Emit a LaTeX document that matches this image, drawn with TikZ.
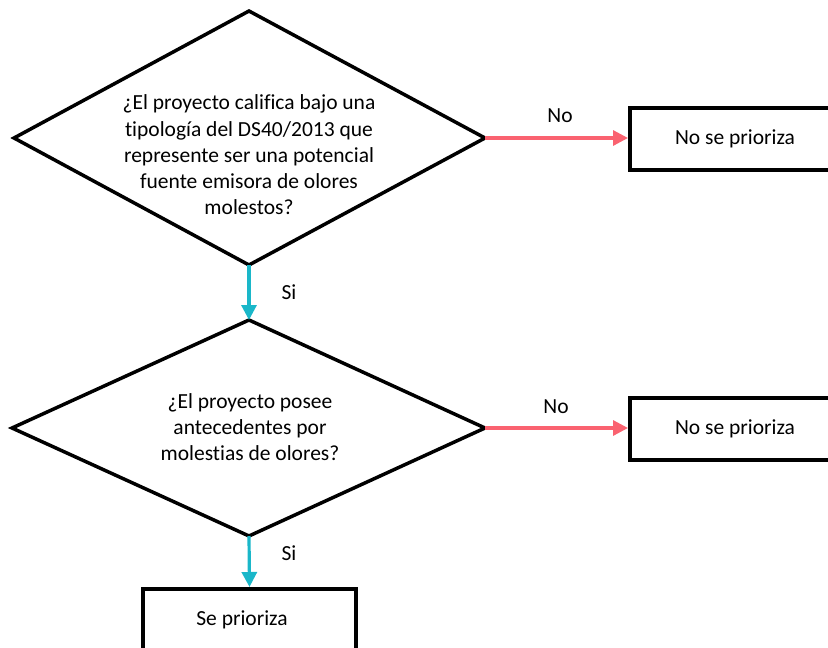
\documentclass[tikz,border=0pt]{standalone}
\usepackage{fontspec}
\setmainfont{Carlito}[Ligatures=NoCommon]
\usetikzlibrary{arrows.meta}
\definecolor{noRed}{RGB}{250,98,112}
\definecolor{siTeal}{RGB}{26,183,201}
\begin{document}
\begin{tikzpicture}[x=1pt,y=-1pt,
  shapeline/.style={draw=black,line width=3.5pt,line join=miter},
  boxnode/.style={shapeline,fill=white,minimum height=62pt,inner sep=0pt},
  qtext/.style={align=center,font=\fontsize{21.5}{26.3}\selectfont},
  btext/.style={font=\fontsize{21.5}{26}\selectfont},
  lbl/.style={font=\fontsize{21.5}{26}\selectfont},
  noarrow/.style={draw=noRed,line width=3.2pt,-{Triangle[length=15pt,width=15pt]}},
  siarrow/.style={draw=siTeal,line width=3.2pt,-{Triangle[length=15pt,width=15pt]}}]
\useasboundingbox (0,0) rectangle (828,648);
\clip (0,0) rectangle (828,648);
% diamond 1
\coordinate (d1t) at (249,11);
\coordinate (d1r) at (485,138);
\coordinate (d1b) at (249,265);
\coordinate (d1l) at (14,138);
\draw[shapeline] (d1t) -- (d1r) -- (d1b) -- (d1l) -- cycle;
\node[qtext] (q1) at (249,155) {¿El proyecto califica bajo una\\tipología del DS40/2013 que\\represente ser una potencial\\fuente emisora de olores\\molestos?};
% diamond 2
\coordinate (d2t) at (249,320);
\coordinate (d2r) at (485,428);
\coordinate (d2b) at (249,536);
\coordinate (d2l) at (12,428);
\draw[shapeline] (d2t) -- (d2r) -- (d2b) -- (d2l) -- cycle;
\node[qtext] (q2) at (250,427) {¿El proyecto posee\\antecedentes por\\molestias de olores?};
% boxes
\node[boxnode,minimum width=214pt,anchor=west] (b1) at (628,139) {};
\node[btext] (t1) at (735,139) {No se prioriza};
\node[boxnode,minimum width=214pt,anchor=west] (b2) at (628,429) {};
\node[btext] (t2) at (735,429) {No se prioriza};
\node[boxnode,minimum width=213pt,minimum height=70pt,anchor=north] (b3) at (249.5,587) {};
\node[btext] (t3) at (242,620) {Se prioriza};
% connectors
\draw[noarrow] (d1r) -- (b1.west |- d1r);
\draw[noarrow] (d2r) -- (b2.west |- d2r);
\draw[siarrow] (d1b) -- (d2t);
\draw[siarrow] (d2b) -- (b3.north);
% labels
\node[lbl] (l1) at (560,116) {No};
\node[lbl] (l2) at (556,407) {No};
\node[lbl] (l3) at (289,292) {Si};
\node[lbl] (l4) at (289,553) {Si};
\end{tikzpicture}
\end{document}
